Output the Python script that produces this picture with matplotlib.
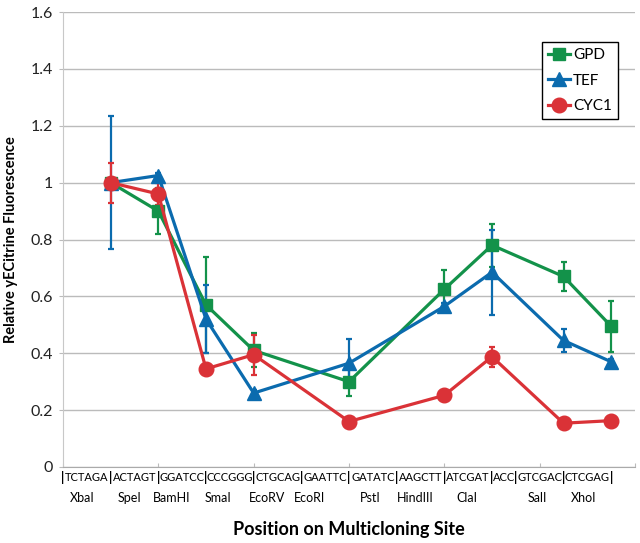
import matplotlib
matplotlib.use("Agg")
import matplotlib.pyplot as plt
from matplotlib.lines import Line2D

plt.rcParams["font.family"] = ["Lato", "DejaVu Sans"]

# position along the MCS (bp from start of XbaI site)
positions = [0, 6, 12, 18, 30, 42, 48, 57, 63]

gpd = [1.00, 0.90, 0.57, 0.41, 0.30, 0.625, 0.78, 0.67, 0.495]
gpd_err = [0.01, 0.08, 0.17, 0.06, 0.05, 0.067, 0.075, 0.05, 0.09]

tef = [1.00, 1.025, 0.52, 0.26, 0.365, 0.565, 0.685, 0.445, 0.37]
tef_err = [0.235, 0.01, 0.12, 0.01, 0.085, 0.01, 0.15, 0.04, 0.01]

cyc1 = [1.00, 0.96, 0.345, 0.395, 0.16, 0.252, 0.388, 0.154, 0.163]
cyc1_err = [0.07, 0.04, 0.01, 0.07, 0.01, 0.01, 0.035, 0.01, 0.01]

sequences = ["TCTAGA", "ACTAGT", "GGATCC", "CCCGGG", "CTGCAG", "GAATTC",
             "GATATC", "AAGCTT", "ATCGAT", "ACC", "GTCGAC", "CTCGAG"]
seq_lengths = [6, 6, 6, 6, 6, 6, 6, 6, 6, 3, 6, 6]
site_names = ["XbaI", "SpeI", "BamHI", "SmaI", "EcoRV", "EcoRI",
              "PstI", "HindIII", "ClaI", "SalI", "XhoI"]
site_name_x = [-3.6, 2.4, 7.7, 13.5, 19.7, 25.0, 32.7, 38.3, 44.8, 53.7, 59.5]

yticks = [0, 0.2, 0.4, 0.6, 0.8, 1.0, 1.2, 1.4, 1.6]
ytick_labels = ["0", "0.2", "0.4", "0.6", "0.8", "1", "1.2", "1.4", "1.6"]

GREEN = "#13924A"
BLUE = "#0B6BAE"
RED = "#DA3237"

fig = plt.figure(figsize=(6.4, 5.43), dpi=100)
ax = fig.add_axes([63 / 640, 76 / 543, 572 / 640, 455 / 543])

series = [
    ("GPD", gpd, gpd_err, GREEN, "s", 9),
    ("TEF", tef, tef_err, BLUE, "^", 10),
    ("CYC1", cyc1, cyc1_err, RED, "o", 10.5),
]
handles = []
for label, vals, err, color, marker, ms in series:
    ax.errorbar(positions, vals, yerr=err, color=color, marker=marker,
                markersize=ms, linewidth=2.3, elinewidth=1.6, capsize=2.5,
                capthick=1.6, zorder=3)
    handles.append(Line2D([], [], color=color, marker=marker, markersize=ms,
                          linewidth=2.3, label=label))

ax.set_xlim(-6, 66)
ax.set_ylim(0, 1.6)
ax.set_yticks(yticks)
ax.set_yticklabels(ytick_labels, fontsize=11.5, color="#222222")
ax.set_xticks([-6, 6, 18, 30, 42, 54, 66])
ax.set_xticklabels([])
ax.tick_params(axis="x", direction="in", length=3, color="#BBBBBB")
ax.tick_params(axis="y", length=3, color="#BBBBBB", pad=4)
ax.grid(axis="y", color="#BBBBBB", linewidth=1)
ax.set_axisbelow(True)
for side in ["top", "right"]:
    ax.spines[side].set_visible(False)
ax.spines["left"].set_color("#C8C8C8")
ax.spines["bottom"].set_color("#AAAAAA")

# multicloning site sequence row
trans = ax.get_xaxis_transform()
start = -6
for seq, n in zip(sequences, seq_lengths):
    ax.text(start, -0.024, "|", transform=trans, ha="center", va="center",
            fontsize=9, fontweight="bold", clip_on=False)
    ax.text(start + n / 2, -0.024, seq, transform=trans, ha="center",
            va="center", fontsize=8, clip_on=False)
    start += n
ax.text(start, -0.024, "|", transform=trans, ha="center", va="center",
        fontsize=9, fontweight="bold", clip_on=False)

for name, x in zip(site_names, site_name_x):
    ax.text(x, -0.068, name, transform=trans, ha="center", va="center",
            fontsize=9, clip_on=False)

ax.set_ylabel("Relative yECitrine Fluorescence", fontsize=10.5,
              fontweight="bold", labelpad=9)
fig.text(349 / 640, 1 - 529 / 543, "Position on Multicloning Site",
         ha="center", va="center", fontsize=13, fontweight="bold")

leg = ax.legend(handles=handles, loc="upper right",
                bbox_to_anchor=(0.970, 0.934), borderaxespad=0, fontsize=11,
                fancybox=False, framealpha=1, edgecolor="black",
                handlelength=1.4, handletextpad=0.2, labelspacing=0.75,
                borderpad=0.4, numpoints=1)
leg.get_frame().set_linewidth(1)

fig.savefig("out.png", dpi=100)
